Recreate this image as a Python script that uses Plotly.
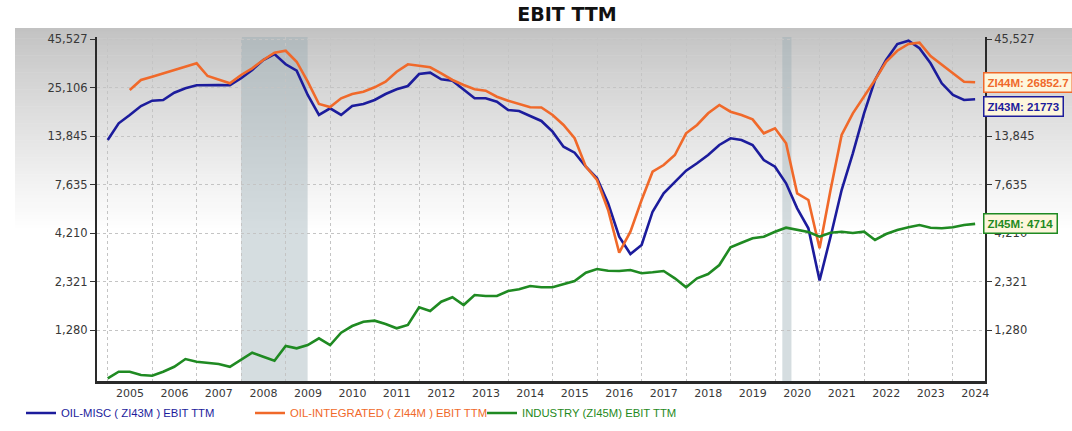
import numpy as np
import pandas as pd
import plotly.graph_objects as go

# Quarterly EBIT TTM ($ millions), Q1 2005 .. Q3 2024
quarters = pd.date_range("2005-01-01", periods=79, freq="QS")

oil_misc = [
    13210, 16218, 17965, 20060, 21410, 21600, 23620, 24930, 25870, 25960,
    25960, 25870, 28190, 31220, 35290, 37980, 33470, 30950, 22960, 17965,
    19500, 17965, 20060, 20560, 21600, 23240, 24620, 25650, 29720, 30200,
    27850, 27370, 24620, 22050, 22050, 21150, 19100, 18870, 17740, 16690,
    14630, 12170, 11300, 9517, 8253, 6070, 4027, 3256, 3637, 5474,
    6863, 7916, 9061, 9922, 10987, 12425, 13490, 13210, 12425, 10330,
    9517, 7762, 5707, 4465, 2350, 4027, 7147, 11219, 18340, 27610,
    35290, 42960, 44740, 40750, 33890, 26510, 22960, 21600, 21773,
]

# integrated oil series begins two quarters later
oil_integrated = [
    24420, 27610, 28750, 29980, 31220, 32500, 33890, 29000, 27610, 26510,
    29360, 31870, 35290, 38600, 39560, 34560, 27040, 20560, 19810, 22050,
    23240, 23910, 25240, 27040, 30570, 33470, 32910, 32260, 29980, 27610,
    25960, 24620, 24210, 22480, 21410, 20560, 19740, 19690, 17965, 15880,
    13490, 9517, 8083, 5590, 3308, 4282, 6322, 8950, 9717, 10987,
    14340, 15880, 18340, 20310, 18700, 17965, 17030, 14340, 15250, 12690,
    6863, 6322, 3493, 7147, 14050, 18340, 22480, 27610, 34560, 39560,
    42960, 43650, 37070, 33190, 29980, 27040, 26852.7,
]

industry = [
    707, 767, 767, 737, 730, 767, 815, 896, 867, 856,
    843, 815, 885, 969, 922, 878, 1052, 1022, 1064, 1156,
    1064, 1238, 1344, 1417, 1435, 1378, 1307, 1361, 1691, 1616,
    1812, 1913, 1740, 1967, 1944, 1944, 2067, 2110, 2198, 2163,
    2163, 2253, 2337, 2588, 2708, 2652, 2642, 2675, 2569, 2601,
    2642, 2416, 2163, 2416, 2547, 2844, 3536, 3741, 3949, 4027,
    4282, 4498, 4372, 4266, 4027, 4230, 4282, 4214, 4282, 3867,
    4163, 4372, 4520, 4649, 4498, 4465, 4520, 4649, 4714,
]

recessions = [("2008-01-01", "2009-06-30"), ("2020-03-01", "2020-05-15")]

tick_vals = [1280, 2321, 4210, 7635, 13845, 25106, 45527]
tick_text = [f"{v:,}" for v in tick_vals]

BLUE = "#1c1c9c"
ORANGE = "#f0692a"
GREEN = "#1f8a22"
Y_RANGE = [2.8351, 4.6704]

fig = go.Figure()

fig.add_trace(go.Scatter(
    x=quarters, y=oil_misc, mode="lines", name="OIL-MISC ( ZI43M ) EBIT TTM",
    line=dict(color=BLUE, width=2.6), legend="legend"))
fig.add_trace(go.Scatter(
    x=quarters[2:], y=oil_integrated, mode="lines",
    name="OIL-INTEGRATED ( ZI44M ) EBIT TTM",
    line=dict(color=ORANGE, width=2.6), legend="legend2"))
fig.add_trace(go.Scatter(
    x=quarters, y=industry, mode="lines", name="INDUSTRY (ZI45M) EBIT TTM",
    line=dict(color=GREEN, width=2.6), legend="legend3"))
# invisible twin so the right-hand axis is drawn
fig.add_trace(go.Scatter(
    x=quarters, y=industry, yaxis="y2", mode="lines",
    line=dict(width=0), opacity=0, showlegend=False, hoverinfo="skip"))

# grey gradient panel behind the plot
top_px, bot_px, base_px, h_px = 28, 232, 381, 344
n_bands = 60
for i in range(n_bands):
    p0 = top_px + (bot_px - top_px) * i / n_bands
    p1 = top_px + (bot_px - top_px) * (i + 1) / n_bands + 0.6
    g = int(round(194 + (255 - 194) * (i / (n_bands - 1)) ** 0.9))
    fig.add_shape(type="rect", xref="paper", yref="paper",
                  x0=(15 - 97) / 888, x1=(1072 - 97) / 888,
                  y0=(base_px - p1) / h_px, y1=(base_px - p0) / h_px,
                  fillcolor=f"rgb({g},{g},{g})", line=dict(width=0),
                  layer="below")

for start, end in recessions:
    fig.add_shape(type="rect", xref="x", yref="paper", x0=start, x1=end,
                  y0=0, y1=1, fillcolor="rgba(150,170,178,0.40)",
                  line=dict(width=0), layer="between")

axis_font = dict(family="DejaVu Sans", size=11.5, color="#383838")
grid = dict(showgrid=True, gridcolor="#c4c4c4", gridwidth=1, griddash="3px,3px")
legend_y = (381 - 413) / 344

fig.update_layout(
    width=1072, height=431,
    margin=dict(l=97, r=87, t=37, b=50, autoexpand=False),
    paper_bgcolor="white", plot_bgcolor="rgba(0,0,0,0)",
    title=dict(text="<b>EBIT TTM</b>", x=567 / 1072, xanchor="center",
               xref="container", y=1 - 14 / 431, yref="container",
               yanchor="middle",
               font=dict(family="DejaVu Sans", size=19, color="#111")),
    xaxis=dict(type="date", range=["2004-10-05", "2024-09-20"],
               dtick="M12", tick0="2005-01-01", ticklabelmode="period",
               tickformat="%Y", ticks="", showline=True, linewidth=3,
               linecolor="#2a2a2a",
               tickfont=dict(family="DejaVu Sans", size=11, color="#383838"),
               **grid),
    yaxis=dict(type="log", range=Y_RANGE, tickvals=tick_vals,
               ticktext=tick_text, ticks="outside", ticklen=5,
               tickcolor="#333", showline=True, linewidth=2,
               linecolor="#2a2a2a", tickfont=axis_font, zeroline=False,
               **grid),
    yaxis2=dict(type="log", range=Y_RANGE, tickvals=tick_vals,
                ticktext=tick_text, ticks="outside", ticklen=5,
                tickcolor="#333", showline=True, linewidth=2,
                linecolor="#2a2a2a", tickfont=axis_font, overlaying="y",
                side="right", showgrid=False, zeroline=False),
    legend=dict(orientation="h", x=(21 - 97) / 888, y=legend_y,
                xanchor="left", yanchor="middle", bgcolor="rgba(0,0,0,0)",
                font=dict(family="Liberation Sans", size=11.3, color=BLUE)),
    legend2=dict(orientation="h", x=(250 - 97) / 888, y=legend_y,
                 xanchor="left", yanchor="middle", bgcolor="rgba(0,0,0,0)",
                 font=dict(family="Liberation Sans", size=11.3, color=ORANGE)),
    legend3=dict(orientation="h", x=(482 - 97) / 888, y=legend_y,
                 xanchor="left", yanchor="middle", bgcolor="rgba(0,0,0,0)",
                 font=dict(family="Liberation Sans", size=11.3, color=GREEN)),
    showlegend=True,
)

# last-value callouts on the right edge
callouts = [("ZI44M", oil_integrated[-1], ORANGE, 0),
            ("ZI43M", oil_misc[-1], BLUE, -7),
            ("ZI45M", industry[-1], GREEN, 0)]
for code, val, col, shift in callouts:
    fig.add_annotation(
        x=1, xref="paper", y=np.log10(val), yref="y", xanchor="left",
        xshift=-2, yshift=shift, yanchor="middle", showarrow=False,
        text=f"<b>{code}: {val}</b>",
        font=dict(family="Liberation Sans", size=11.5, color=col),
        bgcolor="#fdf6dc", bordercolor=col, borderwidth=1.5, borderpad=3)

fig.write_html("out.html")
